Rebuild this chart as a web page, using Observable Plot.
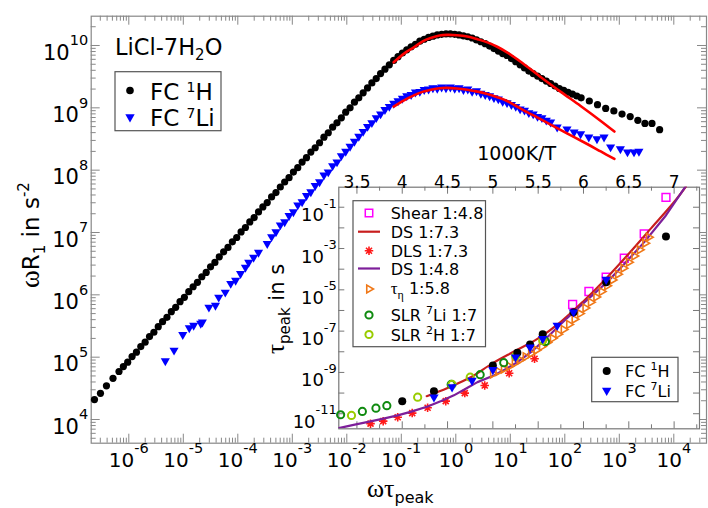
<!DOCTYPE html>
<html><head><meta charset="utf-8">
<script src="https://cdn.jsdelivr.net/npm/d3@7"></script>
<script src="https://cdn.jsdelivr.net/npm/@observablehq/plot@0.6"></script>
<style>
html,body{margin:0;padding:0;background:#fff;}
#wrap{position:relative;width:708px;height:508px;overflow:hidden;background:#fff;}
#wrap svg{position:absolute;}
</style></head><body><div id="wrap"></div>
<script>
// ---------------- MAIN PLOT DATA (log10 values) ----------------
const fcH_logWtau = [
 -6.63,-6.52,-6.41,-6.29,-6.18,-6.10,-6.02,-5.94,-5.86,-5.78,
 -5.70,-5.62,-5.54,-5.46,-5.38,-5.30,-5.22,-5.14,-5.06,-4.98,
 -4.90,-4.82,-4.74,-4.66,-4.58,-4.50,-4.42,-4.34,-4.26,-4.18,
 -4.10,-4.02,-3.94,-3.86,-3.78,-3.70,-3.62,-3.54,-3.46,-3.38,
 -3.30,-3.22,-3.14,-3.06,-2.98,-2.90,-2.82,-2.74,-2.66,-2.58,
 -2.50,-2.42,-2.34,-2.26,-2.18,-2.10,-2.02,-1.94,-1.86,-1.78,
 -1.70,-1.62,-1.54,-1.46,-1.38,-1.30,-1.22,-1.14,-1.06,-0.98,
 -0.90,-0.82,-0.74,-0.66,-0.58,-0.50,-0.42,-0.34,-0.26,-0.18,
 -0.10,-0.02,0.06,0.14,0.22,0.30,0.38,0.46,0.54,0.62,
 0.70,0.78,0.86,0.94,1.02,1.10,1.18,1.26,1.34,1.42,
 1.50,1.58,1.66,1.74,1.82,1.90,1.98,2.06,2.14,2.22,
 2.30,2.45,2.60,2.75,2.90,3.05,3.20,3.34,3.47,3.60,
 3.74];
const fcH_logWR1 = [
 4.32,4.42,4.54,4.66,4.77,4.85,4.92,5.01,5.08,5.17,
 5.24,5.33,5.40,5.49,5.57,5.64,5.73,5.80,5.89,5.96,
 6.05,6.13,6.20,6.29,6.36,6.45,6.52,6.61,6.69,6.76,
 6.85,6.92,7.01,7.08,7.17,7.24,7.33,7.41,7.48,7.57,
 7.64,7.73,7.81,7.88,7.97,8.04,8.13,8.20,8.29,8.36,
 8.44,8.53,8.60,8.69,8.76,8.84,8.93,9.00,9.09,9.16,
 9.24,9.32,9.40,9.47,9.55,9.62,9.69,9.76,9.82,9.88,
 9.93,9.98,10.02,10.07,10.10,10.13,10.15,10.17,10.18,10.185,
 10.185,10.18,10.17,10.155,10.14,10.12,10.09,10.06,10.03,9.99,
 9.95,9.91,9.87,9.84,9.79,9.74,9.69,9.64,9.59,9.55,
 9.51,9.47,9.43,9.39,9.35,9.31,9.28,9.25,9.22,9.19,
 9.16,9.11,9.05,8.99,8.95,8.90,8.86,8.80,8.75,8.75,
 8.65];

const fcLi_logWtau = [
 -5.33,-5.17,-5.01,-4.89,-4.81,-4.68,-4.65,-4.53,-4.41,-4.35,
 -4.23,-4.13,-4.04,-3.95,-3.86,-3.80,-3.71,-3.62,-3.46,-3.38,
 -3.30,-3.22,-3.14,-3.06,-2.98,-2.90,-2.82,-2.74,-2.66,-2.58,
 -2.50,-2.42,-2.34,-2.26,-2.18,-2.10,-2.02,-1.94,-1.86,-1.78,
 -1.70,-1.62,-1.54,-1.46,-1.38,-1.30,-1.22,-1.14,-1.06,-0.98,
 -0.90,-0.82,-0.74,-0.66,-0.58,-0.50,-0.42,-0.34,-0.26,-0.18,
 -0.10,-0.02,0.06,0.14,0.22,0.30,0.38,0.46,0.54,0.62,
 0.70,0.78,0.86,0.94,1.02,1.10,1.18,1.26,1.34,1.42,
 1.50,1.58,1.66,1.74,1.86,2.04,2.17,2.29,2.44,2.59,
 2.72,2.84,3.02,3.15,3.27,3.36];
const fcLi_logWR1 = [
 4.94,5.11,5.36,5.47,5.51,5.54,5.56,5.80,5.83,5.96,
 6.04,6.18,6.23,6.34,6.44,6.52,6.60,6.68,6.82,6.93,
 7.01,7.12,7.17,7.27,7.33,7.44,7.49,7.59,7.65,7.75,
 7.81,7.92,7.97,8.07,8.13,8.23,8.30,8.38,8.46,8.54,
 8.62,8.70,8.76,8.84,8.90,8.97,9.02,9.07,9.11,9.15,
 9.19,9.21,9.25,9.26,9.29,9.30,9.32,9.31,9.33,9.32,
 9.33,9.31,9.32,9.29,9.30,9.26,9.27,9.23,9.21,9.19,
 9.16,9.14,9.10,9.08,9.05,9.02,8.98,8.96,8.92,8.90,
 8.86,8.84,8.80,8.77,8.69,8.66,8.61,8.58,8.53,8.50,
 8.53,8.37,8.34,8.29,8.29,8.30];

const fitH_logWtau = [-1.14,-0.95,-0.77,-0.60,-0.46,-0.30,-0.16,0.02,0.21,0.40,0.58,0.76,0.94,1.19,1.55,1.92,2.29,2.66,2.91];
const fitH_logWR1  = [9.73,9.87,9.97,10.07,10.12,10.16,10.17,10.165,10.145,10.10,10.05,9.98,9.89,9.74,9.50,9.26,9.03,8.79,8.62];
const fitLi_logWtau = [-1.14,-0.95,-0.77,-0.60,-0.46,-0.30,-0.16,0.02,0.21,0.40,0.58,0.76,0.94,1.31,1.68,2.04,2.41,2.66,2.91];
const fitLi_logWR1  = [9.02,9.12,9.20,9.26,9.29,9.315,9.32,9.31,9.29,9.26,9.22,9.17,9.11,8.93,8.76,8.59,8.42,8.30,8.18];

// ---------------- INSET DATA: 1000K/T and log10(tau_peak / s) ----------------
const shear_invT = [5.88,6.06,6.25,6.45,6.67,6.91];
const shear_logTau = [-5.71,-5.08,-4.39,-3.47,-2.29,-0.52];

const ds73_invT = [4.27,4.50,4.75,5.00,5.25,5.50,5.75,6.00,6.25,6.50,6.75,7.00,7.13];
const ds73_logTau = [-10.15,-9.75,-9.25,-8.55,-7.95,-7.35,-6.55,-5.55,-4.45,-3.25,-2.00,-0.75,0.0];

const dls_invT = [3.65,3.79,3.95,4.11,4.28,4.48,4.69,4.91,5.18,5.46];
const dls_logTau = [-11.48,-11.36,-11.17,-10.97,-10.71,-10.39,-10.00,-9.63,-9.04,-8.34];

const ds48_invT = [3.30,3.45,3.61,3.78,3.95,4.10,4.28,4.43,4.57,4.72,4.83,5.01,5.14,5.27,5.42,5.60,5.80,6.00,6.26,6.45,6.67,6.90,7.13];
const ds48_logTau = [-11.70,-11.55,-11.41,-11.25,-11.08,-10.90,-10.65,-10.38,-10.11,-9.74,-9.47,-9.15,-8.85,-8.50,-8.02,-7.30,-6.45,-5.65,-4.63,-3.75,-2.69,-1.45,0.03];

const teta_invT = [5.00,5.06,5.12,5.18,5.24,5.30,5.36,5.42,5.48,5.54,5.60,5.66,5.72,5.78,5.84,5.90,5.96,6.02,6.08,6.14,6.20,6.26,6.32,6.38,6.44,6.50,6.56,6.62,6.68,6.72];
const teta_logTau = [-9.07,-8.95,-8.83,-8.70,-8.55,-8.40,-8.24,-8.08,-7.92,-7.75,-7.55,-7.35,-7.15,-6.92,-6.68,-6.42,-6.15,-5.88,-5.60,-5.35,-5.08,-4.80,-4.52,-4.24,-3.95,-3.66,-3.36,-3.06,-2.74,-2.45];

const slrLi_invT = [3.32,3.56,3.71,3.83,4.54,4.86,5.12,5.58];
const slrLi_logTau = [-11.05,-10.89,-10.73,-10.61,-9.58,-9.11,-8.53,-7.50];

const slrH_invT = [3.44,4.17,4.55,4.75,5.25,5.55];
const slrH_logTau = [-11.08,-10.20,-9.58,-9.23,-8.22,-7.45];

const inFcH_invT = [4.00,4.35,5.00,5.27,5.41,5.55,5.89,6.25,6.91];
const inFcH_logTau = [-10.40,-9.91,-8.66,-8.05,-7.65,-7.15,-6.08,-4.63,-2.42];

const inFcLi_invT = [4.35,4.55,4.77,5.00,5.25,5.41,5.55,5.71,5.89,6.25];
const inFcLi_logTau = [-10.20,-9.71,-9.39,-8.87,-8.26,-7.78,-7.37,-6.73,-6.08,-4.50];

// tick definitions
const mainXDecades = [-6,-5,-4,-3,-2,-1,0,1,2,3,4];
const mainYDecades = [4,5,6,7,8,9,10];
const insetXMajor = [3.5,4,4.5,5,5.5,6,6.5,7];
const insetXMinor = [3.75,4.25,4.75,5.25,5.75,6.25,6.75,7.25];
const insetYDecades = [-11,-10,-9,-8,-7,-6,-5,-4,-3,-2,-1];
const insetYLabelDecades = [-11,-9,-7,-5,-3,-1];

// ---------------- helpers ----------------
const FONT = "DejaVu Sans";
const SERIF = "Liberation Serif";
const toXY = (xs, ys, fx, fy) => xs.map((v, i) => ({x: fx(v), y: fy(ys[i])}));
const pow = v => Math.pow(10, v);
const id = v => v;

const triDown = {draw(c, size){ const a = Math.sqrt(size)*0.78; c.moveTo(-a,-a*0.58); c.lineTo(a,-a*0.58); c.lineTo(0,a*1.15); c.closePath(); }};
const triRight = {draw(c, size){ const a = Math.sqrt(size)*0.78; c.moveTo(-a*0.58,-a); c.lineTo(-a*0.58,a); c.lineTo(a*1.15,0); c.closePath(); }};
const star8 = {draw(c, size){ const l = Math.sqrt(size)*0.6; for (const ang of [0,45,90,135]) { const r = ang*Math.PI/180; c.moveTo(l*Math.cos(r), l*Math.sin(r)); c.lineTo(-l*Math.cos(r), -l*Math.sin(r)); } }};

function minorsLog(lo, hi) {
  const out = [];
  for (let e = Math.floor(lo) - 1; e <= Math.ceil(hi); e++)
    for (let k = 2; k <= 9; k++) { const v = k * Math.pow(10, e); if (Math.log10(v) > lo && Math.log10(v) < hi) out.push(v); }
  return out;
}

// turn "10^-2" text into "10" + raised exponent
function supify(svg, supSize, rise) {
  d3.select(svg).selectAll("text").each(function(){
    const s = this.textContent;
    if (s.indexOf("^") < 0) return;
    const parts = s.split("^");
    const t = d3.select(this);
    t.selectAll("*").remove();
    t.text(parts[0]);
    t.append("tspan").attr("dy", -rise).attr("font-size", supSize).text(parts[1]);
  });
}

// ---------------- MAIN PLOT ----------------
const W = 708, H = 508, mL = 90.7, mR = 2, mT = 15.7, mB = 65.3;
const iw = W - mL - mR, ih = H - mT - mB;
const xLo = -6.69, xHi = 4.6, yLo = 3.62, yHi = 10.47;
const GRAY = "#888";

const fcH = toXY(fcH_logWtau, fcH_logWR1, pow, pow);
const fcLi = toXY(fcLi_logWtau, fcLi_logWR1, pow, pow);
const fitH = toXY(fitH_logWtau, fitH_logWR1, pow, pow);
const fitLi = toXY(fitLi_logWtau, fitLi_logWR1, pow, pow);
const xMaj = mainXDecades.map(pow), yMaj = mainYDecades.map(pow);
const xMin = minorsLog(xLo, xHi), yMin = minorsLog(yLo, yHi);

const main = Plot.plot({
  width: W, height: H, marginLeft: mL, marginRight: mR, marginTop: mT, marginBottom: mB,
  x: {type: "log", domain: [pow(xLo), pow(xHi)], axis: null},
  y: {type: "log", domain: [pow(yLo), pow(yHi)], axis: null},
  style: {background: "white", fontFamily: FONT, overflow: "visible"},
  marks: [
    Plot.tickX(xMaj, {x: id, insetTop: ih - 9, stroke: GRAY}),
    Plot.tickX(xMin, {x: id, insetTop: ih - 5, stroke: GRAY}),
    Plot.tickX(xMaj, {x: id, insetBottom: ih - 9, stroke: GRAY}),
    Plot.tickX(xMin, {x: id, insetBottom: ih - 5, stroke: GRAY}),
    Plot.tickY(yMaj, {y: id, insetRight: iw - 9, stroke: GRAY}),
    Plot.tickY(yMin, {y: id, insetRight: iw - 5, stroke: GRAY}),
    Plot.tickY(yMaj, {y: id, insetLeft: iw - 9, stroke: GRAY}),
    Plot.tickY(yMin, {y: id, insetLeft: iw - 5, stroke: GRAY}),
    Plot.frame({stroke: GRAY, strokeWidth: 1.2}),
    Plot.dot(fcH, {x: "x", y: "y", r: 3.6, fill: "black"}),
    Plot.dot(fcLi, {x: "x", y: "y", r: 3.3, symbol: triDown, fill: "#0000ff"}),
    Plot.line(fitH, {x: "x", y: "y", stroke: "#ff0000", strokeWidth: 2.6, curve: "catmull-rom"}),
    Plot.line(fitLi, {x: "x", y: "y", stroke: "#ff0000", strokeWidth: 2.6, curve: "catmull-rom"}),
    Plot.text(xMaj, {x: id, frameAnchor: "bottom", dy: 24, text: d => "10^" + Math.round(Math.log10(d)), fontSize: 20}),
    Plot.text(yMaj, {y: id, frameAnchor: "left", dx: -3, dy: 7.5, textAnchor: "end", text: d => "10^" + Math.round(Math.log10(d)), fontSize: 21})
  ]
});
main.style.left = "0px"; main.style.top = "0px";
supify(main, 14.5, 14.5);
document.getElementById("wrap").appendChild(main);

// ---------------- INSET PLOT ----------------
const IL = 258, IT = 135, IW = 450, IH = 300;
const imL = 80.3, imR = 9, imT = 51.7, imB = 6.7;
const iiw = IW - imL - imR, iih = IH - imT - imB;
const IGRAY = "#777";

const inset = Plot.plot({
  width: IW, height: IH, marginLeft: imL, marginRight: imR, marginTop: imT, marginBottom: imB,
  x: {domain: [3.30, 7.28], axis: null},
  y: {type: "log", domain: [pow(-11.73), pow(-0.03)], axis: null},
  style: {background: "transparent", fontFamily: FONT, overflow: "visible"},
  marks: [
    Plot.frame({fill: "white", stroke: "none"}),
    Plot.tickX(insetXMajor, {x: id, insetTop: iih - 7, stroke: IGRAY}),
    Plot.tickX(insetXMinor, {x: id, insetTop: iih - 4, stroke: IGRAY}),
    Plot.tickX(insetXMajor, {x: id, insetBottom: iih - 7, stroke: IGRAY}),
    Plot.tickX(insetXMinor, {x: id, insetBottom: iih - 4, stroke: IGRAY}),
    Plot.tickY(insetYDecades.map(pow), {y: id, insetRight: iiw - 6, stroke: IGRAY}),
    Plot.tickY(insetYDecades.map(pow), {y: id, insetLeft: iiw - 6, stroke: IGRAY}),
    Plot.frame({stroke: IGRAY, strokeWidth: 1.2}),
    Plot.dot(toXY(shear_invT, shear_logTau, id, pow), {x: "x", y: "y", symbol: "square", r: 4.4, stroke: "#ff00ff", strokeWidth: 1.5, fill: "none"}),
    Plot.line(toXY(ds73_invT, ds73_logTau, id, pow), {x: "x", y: "y", stroke: "#c81e1e", strokeWidth: 2.2, curve: "catmull-rom", clip: true}),
    Plot.dot(toXY(dls_invT, dls_logTau, id, pow), {x: "x", y: "y", symbol: star8, r: 4, stroke: "#ff1a1a", strokeWidth: 1.6, fill: "none"}),
    Plot.line(toXY(ds48_invT, ds48_logTau, id, pow), {x: "x", y: "y", stroke: "#7d1f9a", strokeWidth: 2.2, curve: "linear", clip: true}),
    Plot.dot(toXY(teta_invT, teta_logTau, id, pow), {x: "x", y: "y", symbol: triRight, r: 2.8, stroke: "#f07818", strokeWidth: 1.6, fill: "none"}),
    Plot.dot(toXY(slrLi_invT, slrLi_logTau, id, pow), {x: "x", y: "y", r: 3.6, stroke: "#0f8a0f", strokeWidth: 2, fill: "none"}),
    Plot.dot(toXY(slrH_invT, slrH_logTau, id, pow), {x: "x", y: "y", r: 3.6, stroke: "#99cc00", strokeWidth: 2, fill: "none"}),
    Plot.dot(toXY(inFcH_invT, inFcH_logTau, id, pow), {x: "x", y: "y", r: 4, fill: "black"}),
    Plot.dot(toXY(inFcLi_invT, inFcLi_logTau, id, pow), {x: "x", y: "y", r: 3.4, symbol: triDown, fill: "#0000ff"}),
    Plot.text(insetXMajor, {x: id, frameAnchor: "top", dy: -11.4, text: d => String(d), fontSize: 17}),
    Plot.text(insetYLabelDecades.map(pow), {y: id, frameAnchor: "left", dx: -2, dy: 8.3, textAnchor: "end", text: d => "10^" + Math.round(Math.log10(d)), fontSize: 18})
  ]
});
inset.style.left = IL + "px"; inset.style.top = IT + "px";
supify(inset, 13, 13.5);
document.getElementById("wrap").appendChild(inset);

// ---------------- OVERLAY: titles, axis labels, legends ----------------
const ov = d3.create("svg").attr("width", W).attr("height", H).style("left", "0px").style("top", "0px").style("pointer-events", "none");
function addText(x, y, parts, opts = {}) {
  const t = ov.append("text").attr("x", x).attr("y", y).attr("font-family", FONT).attr("font-size", opts.size || 16).attr("fill", "#000");
  if (opts.anchor) t.attr("text-anchor", opts.anchor);
  if (opts.transform) t.attr("transform", opts.transform);
  let shift = 0;
  for (const p of parts) {
    const s = t.append("tspan").text(p.t);
    if (p.size) s.attr("font-size", p.size);
    if (p.family) s.attr("font-family", p.family);
    const target = p.shift || 0;
    const dy = -(target - shift);
    if (dy) s.attr("dy", dy);
    shift = target;
  }
  return t;
}
function symPath(sym, r, x, y) {
  return ov.append("path").attr("d", d3.symbol(sym, Math.PI * r * r)()).attr("transform", `translate(${x},${y})`);
}

// main texts
addText(115, 55, [{t: "LiCl-7H"}, {t: "2", size: 15, shift: -5}, {t: "O"}], {size: 22.5});
addText(367, 497, [{t: "ωτ", family: SERIF, size: 26}, {t: "peak", size: 16, shift: -6}], {});
addText(0, 0, [{t: "ω", family: SERIF, size: 27}, {t: "R", size: 23}, {t: "1", size: 15, shift: -6}, {t: " in s", size: 23}, {t: "-2", size: 15, shift: 10}], {transform: "translate(39,288) rotate(-90)"});
addText(0, 0, [{t: "τ", family: SERIF, size: 25}, {t: "peak", size: 15, shift: -6}, {t: " in s", size: 21}], {transform: "translate(284,354) rotate(-90)"});
addText(516.7, 160, [{t: "1000K/T"}], {size: 19, anchor: "middle"});

// main legend
ov.append("rect").attr("x", 115).attr("y", 71.7).attr("width", 106).attr("height", 59).attr("fill", "white").attr("stroke", "#555").attr("stroke-width", 1.2);
ov.append("circle").attr("cx", 130).attr("cy", 90.5).attr("r", 3.8).attr("fill", "black");
symPath(triDown, 3.4, 130, 117).attr("fill", "#0000ff");
addText(150, 100, [{t: "FC "}, {t: "1", size: 14, shift: 8}, {t: "H"}], {size: 23});
addText(150, 126, [{t: "FC "}, {t: "7", size: 14, shift: 8}, {t: "Li"}], {size: 23});

// inset legend 1
ov.append("rect").attr("x", 353).attr("y", 200.7).attr("width", 132.5).attr("height", 146).attr("fill", "white").attr("stroke", "#555").attr("stroke-width", 1.2);
symPath(d3.symbolSquare, 4.2, 369, 213).attr("fill", "none").attr("stroke", "#ff00ff").attr("stroke-width", 1.5);
ov.append("line").attr("x1", 358).attr("x2", 380).attr("y1", 231.7).attr("y2", 231.7).attr("stroke", "#c81e1e").attr("stroke-width", 2.2);
symPath(star8, 4, 369, 250.7).attr("fill", "none").attr("stroke", "#ff1a1a").attr("stroke-width", 1.6);
ov.append("line").attr("x1", 358).attr("x2", 380).attr("y1", 268.5).attr("y2", 268.5).attr("stroke", "#7d1f9a").attr("stroke-width", 2.2);
symPath(triRight, 2.8, 369, 289).attr("fill", "none").attr("stroke", "#f07818").attr("stroke-width", 1.6);
ov.append("circle").attr("cx", 369).attr("cy", 315).attr("r", 3.6).attr("fill", "none").attr("stroke", "#0f8a0f").attr("stroke-width", 2);
ov.append("circle").attr("cx", 369).attr("cy", 334.5).attr("r", 3.6).attr("fill", "none").attr("stroke", "#99cc00").attr("stroke-width", 2);
addText(390.7, 219, [{t: "Shear 1:4.8"}], {size: 16});
addText(390.7, 237.5, [{t: "DS 1:7.3"}], {size: 16});
addText(390.7, 256.5, [{t: "DLS 1:7.3"}], {size: 16});
addText(390.7, 274.5, [{t: "DS 1:4.8"}], {size: 16});
addText(390.7, 294, [{t: "τ", family: SERIF, size: 17}, {t: "η", family: SERIF, size: 12, shift: -5}, {t: " 1:5.8", size: 16}], {size: 16});
addText(390.7, 320.5, [{t: "SLR "}, {t: "7", size: 11, shift: 7}, {t: "Li 1:7"}], {size: 16});
addText(390.7, 340.5, [{t: "SLR "}, {t: "2", size: 11, shift: 7}, {t: "H 1:7"}], {size: 16});

// inset legend 2
ov.append("rect").attr("x", 591.7).attr("y", 357.3).attr("width", 86.3).attr("height", 44.4).attr("fill", "white").attr("stroke", "#555").attr("stroke-width", 1.2);
ov.append("circle").attr("cx", 606.7).attr("cy", 371).attr("r", 4).attr("fill", "black");
symPath(triDown, 3.4, 606.7, 390.5).attr("fill", "#0000ff");
addText(625, 377, [{t: "FC "}, {t: "1", size: 11, shift: 7}, {t: "H"}], {size: 16});
addText(625, 397, [{t: "FC "}, {t: "7", size: 11, shift: 7}, {t: "Li"}], {size: 16});

document.getElementById("wrap").appendChild(ov.node());
</script></body></html>
